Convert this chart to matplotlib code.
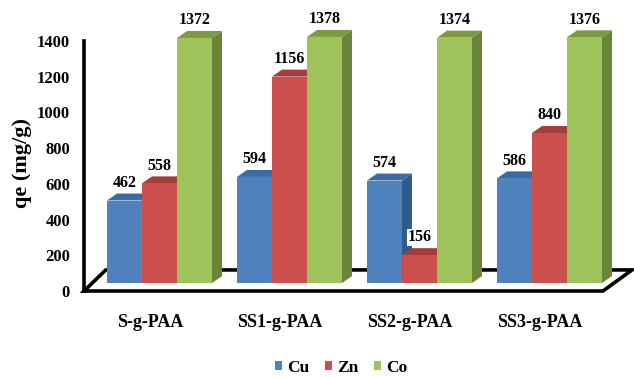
import numpy as np
import matplotlib
matplotlib.use('Agg')
import matplotlib.pyplot as plt
from matplotlib.patches import Polygon, Patch

plt.rcParams['font.family'] = ['Liberation Serif', 'DejaVu Serif']
plt.rcParams['font.weight'] = 'bold'

# Data
categories = ['S-g-PAA', 'SS1-g-PAA', 'SS2-g-PAA', 'SS3-g-PAA']
series_names = ['Cu', 'Zn', 'Co']
cu = [462, 594, 574, 586]
zn = [558, 1156, 156, 840]
co = [1372, 1378, 1374, 1376]
y_ticks = [0, 200, 400, 600, 800, 1000, 1200, 1400]

# face colours: front, top, side
front_colors = ['#4F81BD', '#CB504D', '#9DC35A']
top_colors = ['#3B6BA3', '#A53D3A', '#7B9B3E']
side_colors = ['#2F5B8D', '#8F3230', '#6A8538']

W, H = 634, 377
fig = plt.figure(figsize=(W / 100, H / 100), dpi=100)

# axis frame (front of the 3D box): value 0 at y=291px, 1400 at y=41px
ax_axis = fig.add_axes([84 / W, (H - 291) / H, 519 / W, 250 / H])
ax_axis.set_xlim(0, 1)
ax_axis.set_ylim(0, 1400)
ax_axis.patch.set_visible(False)
for s in ['top', 'right', 'bottom']:
    ax_axis.spines[s].set_visible(False)
ax_axis.spines['left'].set_linewidth(2.6)
ax_axis.set_xticks([])
ax_axis.set_yticks(y_ticks)
ax_axis.tick_params(axis='y', length=0, pad=10, labelsize=12)
for lab in ax_axis.get_yticklabels():
    lab.set_fontweight('bold')

# floor of the box
floor = Polygon([(0, 0), (1, 0), (1.056, 118), (0.042, 118)], closed=True,
                facecolor='white', edgecolor='black', linewidth=2.6,
                joinstyle='miter', clip_on=False, zorder=1)
ax_axis.add_patch(floor)

# bars axes: value 0 at y=283px
ax = fig.add_axes([94.5 / W, (H - 283) / H, 520 / W, 250 / H])
ax.set_xlim(-0.5, 3.5)
ax.set_ylim(0, 1400)
ax.patch.set_visible(False)
for s in ax.spines.values():
    s.set_visible(False)
ax.set_yticks([])
ax.set_xticks(np.arange(len(categories)) - 0.075)
ax.set_xticklabels(categories, fontsize=13, fontweight='bold')
ax.tick_params(axis='x', length=0, pad=22)

w = 35 / 130
dx = 10 / 130
dy = 39
values = [cu, zn, co]
z = 2
for i in range(len(categories)):
    for k, vals in enumerate(values):
        v = vals[i]
        x0 = i + (k - 1.5) * w
        x1 = x0 + w
        side = Polygon([(x1, 0), (x1 + dx, dy), (x1 + dx, v + dy), (x1, v)],
                       closed=True, facecolor=side_colors[k], edgecolor='none',
                       clip_on=False, zorder=z)
        top = Polygon([(x0, v), (x1, v), (x1 + dx, v + dy), (x0 + dx, v + dy)],
                      closed=True, facecolor=top_colors[k], edgecolor='none',
                      clip_on=False, zorder=z)
        ax.add_patch(side)
        ax.add_patch(top)
        ax.bar(x0, v, width=w, align='edge', color=front_colors[k],
               edgecolor='none', zorder=z, clip_on=False)
        z += 1

# value labels on top
for i in range(len(categories)):
    for k, vals in enumerate(values):
        v = vals[i]
        xc = i + (k - 1) * w
        ax.annotate(str(v), (xc, v + dy), xytext=(0, 2), textcoords='offset points',
                    ha='center', va='bottom', fontsize=11.5, fontweight='bold',
                    annotation_clip=False, zorder=100,
                    bbox=dict(boxstyle='square,pad=0.05', facecolor='white',
                              edgecolor='none'))

fig.text(22 / W, 1 - 163 / H, 'qe (mg/g)', rotation=90, ha='center', va='center',
         fontsize=16, fontweight='bold')

handles = [Patch(facecolor=c, edgecolor='none', label=n)
           for c, n in zip(front_colors, series_names)]
fig.legend(handles=handles, loc='center', bbox_to_anchor=(341 / W, 1 - 368 / H),
           ncol=3, frameon=False, handlelength=0.4, handleheight=0.4,
           handletextpad=0.3, columnspacing=0.9, prop={'size': 12.5, 'weight': 'bold'})

fig.savefig('out.png', dpi=100)
